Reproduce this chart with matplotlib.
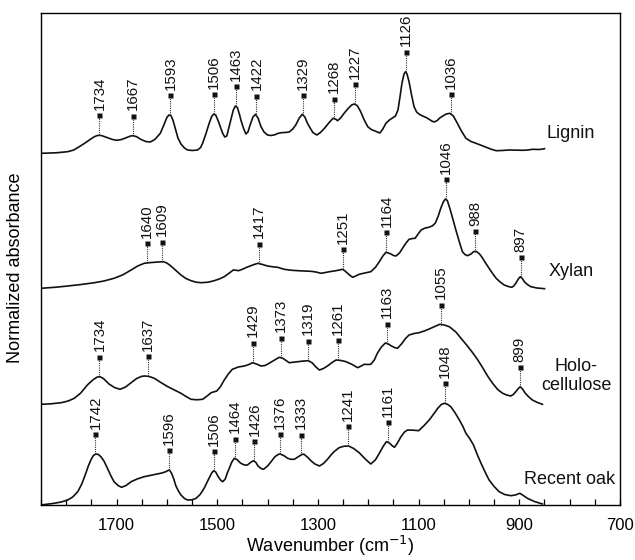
import numpy as np
import matplotlib
matplotlib.use("Agg")
import matplotlib.pyplot as plt

plt.rcParams['font.family'] = ['Liberation Sans', 'DejaVu Sans']

# ---------------- data: (wavenumber cm-1, normalized absorbance a.u.) ----------------
lignin = [(1850, 0.017), (1820, 0.022), (1797, 0.033), (1785, 0.050), (1774, 0.083), (1764, 0.115),
          (1754, 0.150), (1744, 0.183), (1738, 0.195), (1734, 0.197), (1729, 0.193), (1718, 0.173),
          (1708, 0.155), (1699, 0.147), (1690, 0.155), (1680, 0.175), (1672, 0.190), (1667, 0.193),
          (1660, 0.183), (1652, 0.157), (1642, 0.135), (1633, 0.130), (1624, 0.155), (1613, 0.217),
          (1606, 0.300), (1600, 0.375), (1596, 0.400), (1592, 0.395), (1588, 0.350), (1583, 0.260),
          (1578, 0.170), (1572, 0.110), (1565, 0.070), (1559, 0.050), (1549, 0.045), (1539, 0.050),
          (1533, 0.075), (1529, 0.117), (1522, 0.220), (1516, 0.317), (1511, 0.385), (1507, 0.410),
          (1503, 0.400), (1498, 0.340), (1494, 0.283), (1489, 0.215), (1485, 0.180), (1481, 0.190),
          (1477, 0.270), (1473, 0.350), (1468, 0.450), (1464, 0.490), (1460, 0.475), (1456, 0.410),
          (1453, 0.350), (1448, 0.270), (1443, 0.210), (1439, 0.230), (1434, 0.310), (1429, 0.380),
          (1424, 0.407), (1419, 0.370), (1413, 0.283), (1407, 0.230), (1400, 0.200), (1394, 0.195),
          (1387, 0.200), (1380, 0.215), (1373, 0.223), (1365, 0.225), (1357, 0.230), (1350, 0.260),
          (1344, 0.300), (1337, 0.370), (1331, 0.407), (1326, 0.380), (1321, 0.320), (1317, 0.283),
          (1310, 0.225), (1302, 0.200), (1295, 0.225), (1287, 0.267), (1278, 0.323), (1270, 0.367),
          (1265, 0.360), (1261, 0.343), (1255, 0.370), (1248, 0.417), (1240, 0.465), (1233, 0.500),
          (1228, 0.510), (1222, 0.495), (1215, 0.433), (1208, 0.350), (1201, 0.283), (1194, 0.255),
          (1188, 0.243), (1182, 0.230), (1177, 0.220), (1171, 0.260), (1165, 0.317), (1158, 0.350),
          (1152, 0.370), (1146, 0.390), (1141, 0.450), (1137, 0.580), (1133, 0.720), (1129, 0.810),
          (1126, 0.833), (1123, 0.810), (1119, 0.733), (1114, 0.600), (1109, 0.483), (1104, 0.430),
          (1098, 0.405), (1092, 0.390), (1085, 0.375), (1079, 0.357), (1074, 0.340), (1069, 0.330),
          (1063, 0.345), (1058, 0.370), (1052, 0.390), (1045, 0.410), (1038, 0.417), (1031, 0.390),
          (1023, 0.317), (1015, 0.240), (1006, 0.167), (996, 0.135), (986, 0.117), (976, 0.097),
          (966, 0.077), (956, 0.058), (946, 0.043), (935, 0.045), (920, 0.050), (905, 0.048),
          (893, 0.047), (883, 0.050), (874, 0.057), (860, 0.055), (850, 0.063)]

xylan = [(1850, 0.017), (1820, 0.028), (1797, 0.040), (1770, 0.055), (1744, 0.073), (1725, 0.090),
         (1705, 0.117), (1688, 0.150), (1671, 0.200), (1658, 0.240), (1645, 0.267), (1635, 0.273),
         (1625, 0.277), (1615, 0.281), (1607, 0.283), (1600, 0.270), (1592, 0.240), (1582, 0.195),
         (1572, 0.150), (1562, 0.115), (1552, 0.093), (1542, 0.078), (1532, 0.073), (1518, 0.078),
         (1506, 0.093), (1496, 0.110), (1486, 0.133), (1476, 0.170), (1468, 0.200), (1463, 0.198),
         (1458, 0.193), (1450, 0.207), (1441, 0.228), (1433, 0.243), (1425, 0.258), (1419, 0.267),
         (1410, 0.255), (1400, 0.240), (1390, 0.232), (1380, 0.227), (1367, 0.207), (1354, 0.198),
         (1340, 0.193), (1327, 0.190), (1314, 0.187), (1304, 0.180), (1294, 0.167), (1285, 0.175),
         (1277, 0.183), (1264, 0.193), (1251, 0.207), (1246, 0.190), (1241, 0.167), (1236, 0.145),
         (1231, 0.127), (1225, 0.140), (1218, 0.157), (1207, 0.170), (1195, 0.183), (1186, 0.225),
         (1178, 0.283), (1171, 0.340), (1165, 0.377), (1160, 0.370), (1155, 0.360), (1150, 0.345),
         (1145, 0.340), (1138, 0.370), (1132, 0.417), (1125, 0.470), (1119, 0.507), (1112, 0.515),
         (1107, 0.517), (1101, 0.560), (1095, 0.600), (1088, 0.618), (1080, 0.627), (1073, 0.640),
         (1067, 0.667), (1061, 0.740), (1056, 0.817), (1051, 0.880), (1047, 0.910), (1043, 0.895),
         (1038, 0.817), (1032, 0.710), (1026, 0.600), (1019, 0.480), (1013, 0.383), (1008, 0.355),
         (1003, 0.343), (996, 0.360), (990, 0.385), (985, 0.385), (979, 0.360), (974, 0.327),
         (967, 0.270), (960, 0.217), (953, 0.165), (946, 0.117), (938, 0.080), (930, 0.050),
         (922, 0.035), (915, 0.027), (911, 0.040), (907, 0.067), (902, 0.110), (898, 0.133),
         (894, 0.115), (890, 0.083), (884, 0.055), (877, 0.033), (865, 0.020), (850, 0.013)]

holocellulose = [(1850, 0.007), (1830, 0.012), (1810, 0.023), (1796, 0.040), (1784, 0.067), (1771, 0.120),
                 (1758, 0.200), (1746, 0.255), (1738, 0.280), (1733, 0.283), (1726, 0.265), (1715, 0.210),
                 (1704, 0.175), (1693, 0.157), (1682, 0.180), (1671, 0.223), (1660, 0.265), (1650, 0.287),
                 (1643, 0.290), (1635, 0.285), (1625, 0.267), (1612, 0.225), (1598, 0.183), (1585, 0.150),
                 (1572, 0.117), (1562, 0.085), (1552, 0.057), (1540, 0.052), (1529, 0.057), (1520, 0.090),
                 (1512, 0.123), (1501, 0.140), (1494, 0.180), (1486, 0.250), (1478, 0.310), (1470, 0.357),
                 (1458, 0.380), (1446, 0.390), (1437, 0.405), (1430, 0.423), (1422, 0.410), (1413, 0.390),
                 (1405, 0.395), (1397, 0.417), (1386, 0.450), (1377, 0.477), (1370, 0.468), (1357, 0.423),
                 (1348, 0.428), (1340, 0.433), (1328, 0.440), (1319, 0.443), (1311, 0.420), (1304, 0.380),
                 (1297, 0.350), (1289, 0.365), (1281, 0.390), (1272, 0.425), (1264, 0.450), (1254, 0.445),
                 (1244, 0.433), (1232, 0.405), (1221, 0.373), (1214, 0.390), (1208, 0.407), (1201, 0.405),
                 (1195, 0.407), (1188, 0.450), (1182, 0.517), (1174, 0.580), (1166, 0.620), (1160, 0.610),
                 (1155, 0.593), (1148, 0.575), (1142, 0.567), (1134, 0.610), (1126, 0.665), (1119, 0.700),
                 (1109, 0.715), (1099, 0.723), (1089, 0.740), (1079, 0.760), (1068, 0.785), (1058, 0.807),
                 (1049, 0.800), (1039, 0.783), (1026, 0.730), (1013, 0.650), (1003, 0.590), (993, 0.525),
                 (983, 0.455), (973, 0.375), (963, 0.290), (953, 0.217), (943, 0.155), (933, 0.117),
                 (925, 0.100), (917, 0.090), (912, 0.105), (907, 0.133), (902, 0.165), (898, 0.183),
                 (893, 0.155), (888, 0.117), (881, 0.080), (874, 0.050), (864, 0.025), (854, 0.007)]

recent_oak = [(1850, 0.000), (1837, 0.008), (1824, 0.017), (1810, 0.030), (1797, 0.050), (1787, 0.080),
              (1777, 0.133), (1769, 0.210), (1761, 0.317), (1756, 0.390), (1751, 0.450), (1746, 0.495),
              (1741, 0.510), (1736, 0.505), (1731, 0.483), (1725, 0.440), (1718, 0.367), (1711, 0.290),
              (1705, 0.233), (1697, 0.195), (1690, 0.177), (1681, 0.195), (1671, 0.233), (1658, 0.262),
              (1645, 0.283), (1632, 0.297), (1619, 0.310), (1610, 0.320), (1602, 0.333), (1598, 0.345),
              (1595, 0.350), (1591, 0.320), (1587, 0.270), (1582, 0.190), (1577, 0.140), (1572, 0.100),
              (1565, 0.065), (1559, 0.050), (1550, 0.052), (1542, 0.067), (1534, 0.105), (1526, 0.167),
              (1518, 0.250), (1511, 0.320), (1507, 0.343), (1503, 0.330), (1498, 0.283), (1493, 0.248),
              (1489, 0.233), (1484, 0.260), (1480, 0.320), (1476, 0.367), (1471, 0.430), (1466, 0.467),
              (1461, 0.455), (1456, 0.430), (1453, 0.417), (1446, 0.400), (1440, 0.400), (1434, 0.425),
              (1428, 0.443), (1423, 0.425), (1419, 0.390), (1413, 0.365), (1408, 0.357), (1400, 0.390),
              (1393, 0.433), (1385, 0.485), (1378, 0.508), (1375, 0.510), (1368, 0.495), (1360, 0.467),
              (1354, 0.457), (1347, 0.457), (1338, 0.485), (1331, 0.508), (1327, 0.505), (1320, 0.475),
              (1314, 0.443), (1306, 0.410), (1297, 0.390), (1289, 0.415), (1281, 0.457), (1274, 0.500),
              (1268, 0.533), (1258, 0.573), (1248, 0.588), (1239, 0.590), (1229, 0.565), (1218, 0.523),
              (1206, 0.460), (1195, 0.410), (1186, 0.450), (1178, 0.517), (1170, 0.590), (1164, 0.633),
              (1158, 0.620), (1153, 0.595), (1148, 0.577), (1142, 0.620), (1135, 0.683), (1128, 0.730),
              (1122, 0.750), (1110, 0.748), (1100, 0.743), (1090, 0.790), (1079, 0.850), (1070, 0.910),
              (1062, 0.967), (1055, 1.005), (1049, 1.017), (1043, 1.008), (1036, 0.983), (1028, 0.925),
              (1019, 0.850), (1012, 0.785), (1006, 0.717), (998, 0.660), (991, 0.600), (984, 0.510),
              (976, 0.417), (968, 0.330), (960, 0.250), (950, 0.185), (940, 0.133), (929, 0.105),
              (917, 0.093), (908, 0.100), (899, 0.117), (892, 0.095), (884, 0.067), (870, 0.035),
              (854, 0.010)]

names = ["Lignin", "Xylan", "Holo-\ncellulose", "Recent oak"]
offsets = [3.50, 2.15, 1.00, 0.00]

lignin_peaks = [1734, 1667, 1593, 1506, 1463, 1422, 1329, 1268, 1227, 1126, 1036]
xylan_peaks = [1640, 1609, 1417, 1251, 1164, 1046, 988, 897]
holo_peaks = [1734, 1637, 1429, 1373, 1319, 1261, 1163, 1055, 899]
oak_peaks = [1742, 1596, 1506, 1464, 1426, 1376, 1333, 1241, 1161, 1048]

xticks_major = [1700, 1500, 1300, 1100, 900, 700]

# ---------------- plot ----------------
fig = plt.figure(figsize=(6.35, 5.60), dpi=100)
ax = fig.add_axes([41/635, 1-505/560, (620-41)/635, (505-13)/560])

spectra = [(lignin, lignin_peaks), (xylan, xylan_peaks),
           (holocellulose, holo_peaks), (recent_oak, oak_peaks)]

label_pos = [(797, 3.717), (797, 2.333), (787, 1.29), (801, 0.257)]
gap = 0.20

for (data, peaks), off, name, (lx, ly) in zip(spectra, offsets, names, label_pos):
    wn = np.array([d[0] for d in data], float)
    y = np.array([d[1] for d in data], float) + off
    ax.plot(wn, y, color='#111111', lw=1.2, solid_joinstyle='round')
    order = np.argsort(wn)
    for p in peaks:
        yc = np.interp(p, wn[order], y[order])
        ym = yc + gap
        ax.plot([p, p], [yc, ym], color='#333333', lw=0.8, ls=(0, (1, 1)))
        ax.plot(p, ym, marker='s', ms=3.6, color='#111111', mec='none')
        ax.text(p, ym + 0.055, str(p), rotation=90, ha='center', va='bottom',
                fontsize=10.8, color='#111111')
    ax.text(lx, ly, name, ha='center', va='center', fontsize=13, color='#111111',
            linespacing=1.15)

ax.set_xlim(1850, 700)
ax.set_ylim(0, 4.92)
ax.set_xticks(xticks_major)
ax.set_xticks(np.arange(700, 1851, 50), minor=True)
ax.set_yticks([])
ax.tick_params(axis='x', which='both', direction='in', length=4, width=0.9,
               labelsize=12, pad=9, top=False)
for s in ax.spines.values():
    s.set_linewidth(1.0)
ax.set_xlabel("Wavenumber (cm$^{-1}$)", fontsize=13, labelpad=1)
ax.set_ylabel("Normalized absorbance", fontsize=13)
ax.yaxis.set_label_coords(-0.029, 0.482)

fig.savefig("out.png", dpi=100)
